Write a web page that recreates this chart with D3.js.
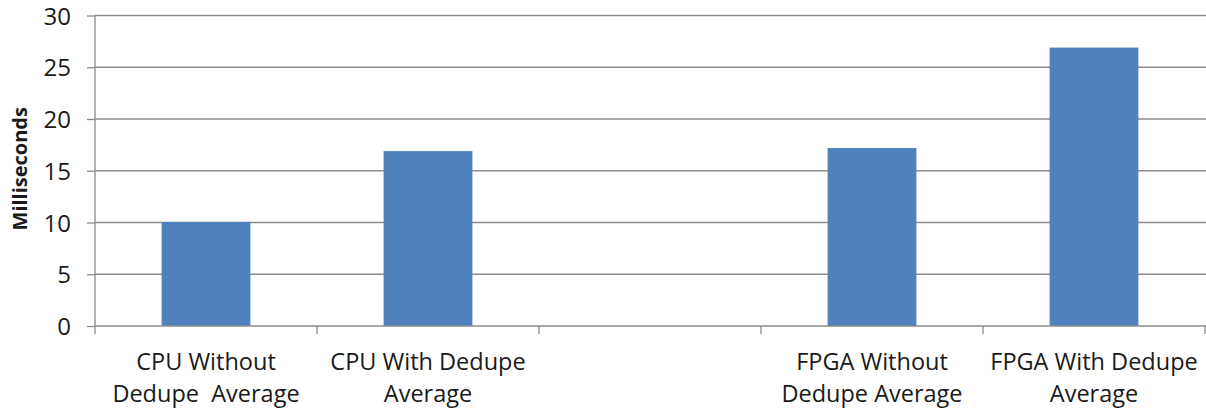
<!DOCTYPE html>
<html>
<head>
<meta charset="utf-8">
<script src="https://cdn.jsdelivr.net/npm/d3@7"></script>
<style>
  html, body { margin: 0; padding: 0; background: #fff; }
  svg { display: block; }
  text { font-family: "Open Sans", "Liberation Sans", Arial, sans-serif; fill: #1a1a1a; }
</style>
</head>
<body>
<svg id="chart" width="1206" height="412"></svg>
<script>
const categories = [
  ["CPU Without", "Dedupe  Average"],
  ["CPU With Dedupe", "Average"],
  ["", ""],
  ["FPGA Without", "Dedupe Average"],
  ["FPGA With Dedupe", "Average"]
];
const values = [10.05, 16.9, null, 17.2, 26.9];
const yTicks = [0, 5, 10, 15, 20, 25, 30];
const yTitle = "Milliseconds";

(function () {
const W = 1206, H = 412;
const mLeft = 95, mRight = 1205, mTop = 15.5, mBottom = 326;

const svg = d3.select("#chart");
const idx = categories.map((d, i) => i);

const x = d3.scaleBand().domain(idx).range([mLeft, mRight]).paddingInner(0.6).paddingOuter(0.3);
const step = x.step();
const y = d3.scaleLinear().domain([0, 30]).range([mBottom, mTop]);

// gridlines
svg.append("g").selectAll("line").data(yTicks.filter(t => t > 0)).join("line")
  .attr("x1", mLeft).attr("x2", W)
  .attr("y1", d => y(d)).attr("y2", d => y(d))
  .attr("stroke", "#8c8c8c").attr("stroke-width", 1.3);

// bars
svg.append("g").selectAll("rect").data(values.map((v, i) => ({v, i})).filter(d => d.v != null)).join("rect")
  .attr("x", d => x(d.i))
  .attr("width", x.bandwidth())
  .attr("y", d => y(d.v))
  .attr("height", d => y(0) - y(d.v))
  .attr("fill", "#4f81bd");

// y axis
const yAxis = d3.axisLeft(y).tickValues(yTicks).tickSize(8).tickPadding(16);
const gy = svg.append("g").attr("transform", `translate(${mLeft},0)`).call(yAxis);
gy.select(".domain").attr("stroke", "#8c8c8c").attr("stroke-width", 1.3).attr("d", `M0,${mBottom}V${mTop}`);
gy.selectAll(".tick line").attr("stroke", "#8c8c8c").attr("stroke-width", 1.3);
gy.selectAll(".tick text").attr("font-size", 24).attr("fill", "#1a1a1a")
  .attr("font-family", "'Open Sans', 'Liberation Sans', Arial, sans-serif").attr("dy", "0.36em");

// x axis baseline and boundary ticks
const boundaries = d3.range(categories.length + 1).map(i => mLeft + i * step);
svg.append("line").attr("x1", mLeft).attr("x2", W).attr("y1", mBottom).attr("y2", mBottom)
  .attr("stroke", "#8c8c8c").attr("stroke-width", 1.3);
svg.append("g").selectAll("line").data(boundaries).join("line")
  .attr("x1", d => d).attr("x2", d => d).attr("y1", mBottom).attr("y2", mBottom + 8)
  .attr("stroke", "#8c8c8c").attr("stroke-width", 1.3);

// x labels
const gl = svg.append("g");
categories.forEach((lines, i) => {
  const cx = x(i) + x.bandwidth() / 2;
  const t = gl.append("text").attr("text-anchor", "middle").attr("font-size", 23.5)
    .attr("xml:space", "preserve").style("white-space", "pre");
  lines.forEach((ln, j) => {
    t.append("tspan").attr("x", cx).attr("y", 370 + j * 32).text(ln);
  });
});

// y title
svg.append("text")
  .attr("transform", `translate(27,${(mTop + mBottom) / 2 - 2}) rotate(-90)`)
  .attr("text-anchor", "middle")
  .attr("font-size", 20).attr("font-weight", "bold")
  .text(yTitle);
})();
</script>
</body>
</html>
